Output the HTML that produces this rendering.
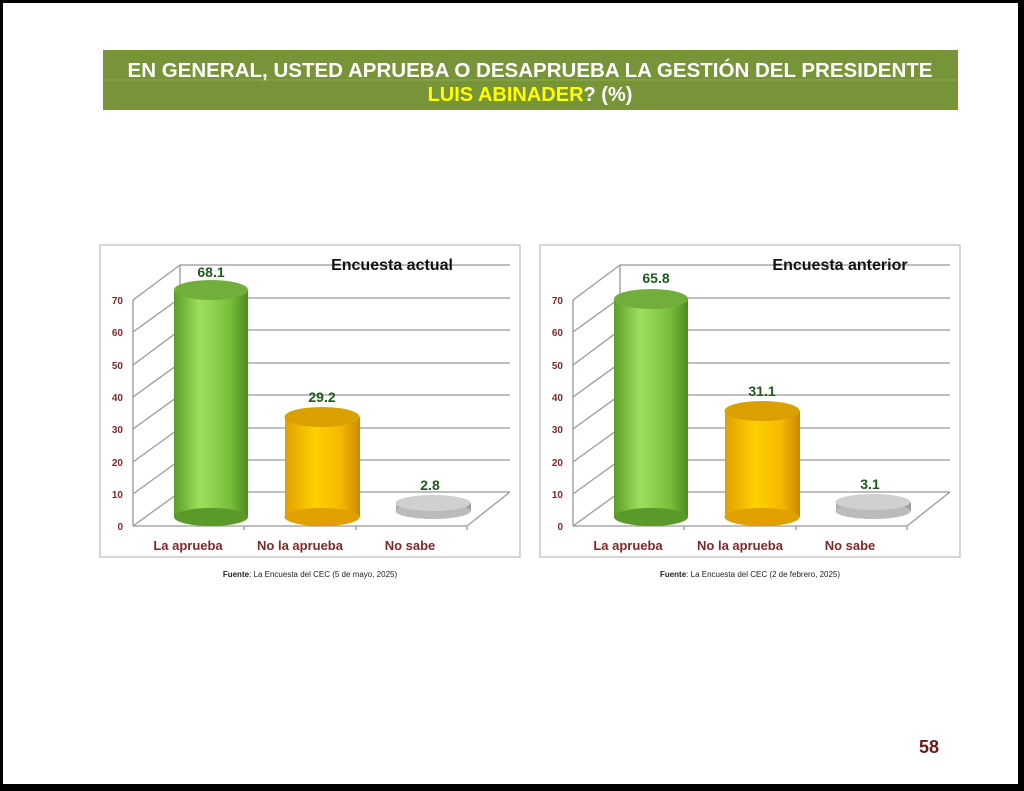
<!DOCTYPE html>
<html><head><meta charset="utf-8"><style>
html,body{margin:0;padding:0;background:#000}
#pg{position:absolute;left:3px;top:3px;width:1015px;height:781px;background:#fff;overflow:hidden}
</style></head><body>
<div id="pg"></div>
<svg width="1024" height="791" style="position:absolute;left:0;top:0" font-family="Liberation Sans, sans-serif">
<defs>
<linearGradient id="gG" x1="0" x2="1"><stop offset="0" stop-color="#5c9e28"/><stop offset="0.35" stop-color="#9ee05e"/><stop offset="0.75" stop-color="#78c03c"/><stop offset="1" stop-color="#4e8a1e"/></linearGradient>
<linearGradient id="gO" x1="0" x2="1"><stop offset="0" stop-color="#e0a000"/><stop offset="0.4" stop-color="#ffd000"/><stop offset="0.75" stop-color="#f5b800"/><stop offset="1" stop-color="#c88a00"/></linearGradient>
<linearGradient id="gS" x1="0" x2="1"><stop offset="0" stop-color="#aaa"/><stop offset="0.4" stop-color="#f0f0f0"/><stop offset="1" stop-color="#999"/></linearGradient>
<g id="frame">
<rect x="100" y="245" width="420" height="312" fill="#fff" stroke="#c8c8c8" stroke-width="1.5"/>
<g stroke="#999" stroke-width="1.3" fill="none">
<line x1="180" y1="492" x2="510" y2="492"/><line x1="180" y1="460" x2="510" y2="460"/>
<line x1="180" y1="428" x2="510" y2="428"/><line x1="180" y1="395" x2="510" y2="395"/>
<line x1="180" y1="363" x2="510" y2="363"/><line x1="180" y1="330" x2="510" y2="330"/>
<line x1="180" y1="298" x2="510" y2="298"/><line x1="180" y1="265" x2="510" y2="265"/>
<line x1="133" y1="526" x2="180" y2="492"/><line x1="133" y1="494" x2="180" y2="460"/>
<line x1="133" y1="462" x2="180" y2="428"/><line x1="133" y1="429" x2="180" y2="395"/>
<line x1="133" y1="397" x2="180" y2="363"/><line x1="133" y1="365" x2="180" y2="330"/>
<line x1="133" y1="332" x2="180" y2="298"/><line x1="133" y1="300" x2="180" y2="265"/>
<line x1="180" y1="265" x2="180" y2="492"/>
<line x1="133" y1="300" x2="133" y2="526"/><line x1="133" y1="526" x2="467" y2="526"/>
<line x1="467" y1="526" x2="510" y2="492"/>
<line x1="244" y1="526" x2="244" y2="530"/><line x1="356" y1="526" x2="356" y2="530"/><line x1="467" y1="526" x2="467" y2="530"/>
</g>
<g font-size="10" font-weight="bold" fill="#7a2a2a" text-anchor="end">
<text x="123" y="530">0</text><text x="123" y="498">10</text><text x="123" y="466">20</text><text x="123" y="433">30</text>
<text x="123" y="401">40</text><text x="123" y="369">50</text><text x="123" y="336">60</text><text x="123" y="304">70</text>
</g>
<g font-size="13" font-weight="bold" fill="#7a2a2a" text-anchor="middle">
<text x="188" y="550">La aprueba</text><text x="300" y="550">No la aprueba</text><text x="410" y="550">No sabe</text>
</g>
</g>
</defs>

<rect x="103" y="50" width="855" height="60" fill="#789438"/>
<line x1="103" y1="80" x2="958" y2="80" stroke="#8fa84e" stroke-width="1"/>
<text x="530" y="77" font-size="20" font-weight="bold" fill="#fff" text-anchor="middle" textLength="805" lengthAdjust="spacingAndGlyphs">EN GENERAL, USTED APRUEBA O DESAPRUEBA LA GESTIÓN DEL PRESIDENTE</text>
<text x="530" y="101" font-size="20" font-weight="bold" fill="#fff" text-anchor="middle"><tspan fill="#ffff00">LUIS ABINADER</tspan>? (%)</text>

<!-- left -->
<use href="#frame"/>
<text x="392" y="270" font-size="16" font-weight="bold" fill="#111" text-anchor="middle">Encuesta actual</text>
<rect x="174" y="290" width="74" height="227" fill="url(#gG)"/><ellipse cx="211" cy="517" rx="37" ry="9" fill="#5a9a2a"/><ellipse cx="211" cy="290" rx="37" ry="10" fill="#72ae3c"/>
<rect x="285" y="417" width="75" height="100" fill="url(#gO)"/><ellipse cx="322" cy="517" rx="37.5" ry="9" fill="#e0a000"/><ellipse cx="322" cy="417" rx="37.5" ry="10" fill="#d9a000"/>
<rect x="396" y="503" width="75" height="8" fill="url(#gS)"/><ellipse cx="433" cy="511" rx="37.5" ry="8" fill="#bbb"/><ellipse cx="433" cy="503" rx="37.5" ry="8" fill="#d0d0d0"/>
<g font-size="14" font-weight="bold" fill="#1e5a1e" text-anchor="middle">
<text x="211" y="277">68.1</text><text x="322" y="402">29.2</text><text x="430" y="490">2.8</text></g>
<text x="310" y="577" font-size="8" fill="#222" text-anchor="middle"><tspan font-weight="bold">Fuente</tspan>: La Encuesta del CEC (5 de mayo, 2025)</text>

<!-- right -->
<use href="#frame" x="440"/>
<text x="840" y="270" font-size="16" font-weight="bold" fill="#111" text-anchor="middle">Encuesta anterior</text>
<rect x="614" y="299" width="74" height="218" fill="url(#gG)"/><ellipse cx="651" cy="517" rx="37" ry="9" fill="#5a9a2a"/><ellipse cx="651" cy="299" rx="37" ry="10" fill="#72ae3c"/>
<rect x="725" y="411" width="75" height="106" fill="url(#gO)"/><ellipse cx="762" cy="517" rx="37.5" ry="9" fill="#e0a000"/><ellipse cx="762" cy="411" rx="37.5" ry="10" fill="#d9a000"/>
<rect x="836" y="502" width="75" height="9" fill="url(#gS)"/><ellipse cx="873" cy="511" rx="37.5" ry="8" fill="#bbb"/><ellipse cx="873" cy="502" rx="37.5" ry="8" fill="#d0d0d0"/>
<g font-size="14" font-weight="bold" fill="#1e5a1e" text-anchor="middle">
<text x="656" y="283">65.8</text><text x="762" y="396">31.1</text><text x="870" y="489">3.1</text></g>
<text x="750" y="577" font-size="8" fill="#222" text-anchor="middle"><tspan font-weight="bold">Fuente</tspan>: La Encuesta del CEC (2 de febrero, 2025)</text>

<text x="929" y="753" font-size="18" font-weight="bold" fill="#6a1a1a" text-anchor="middle">58</text>
</svg>
</body></html>
